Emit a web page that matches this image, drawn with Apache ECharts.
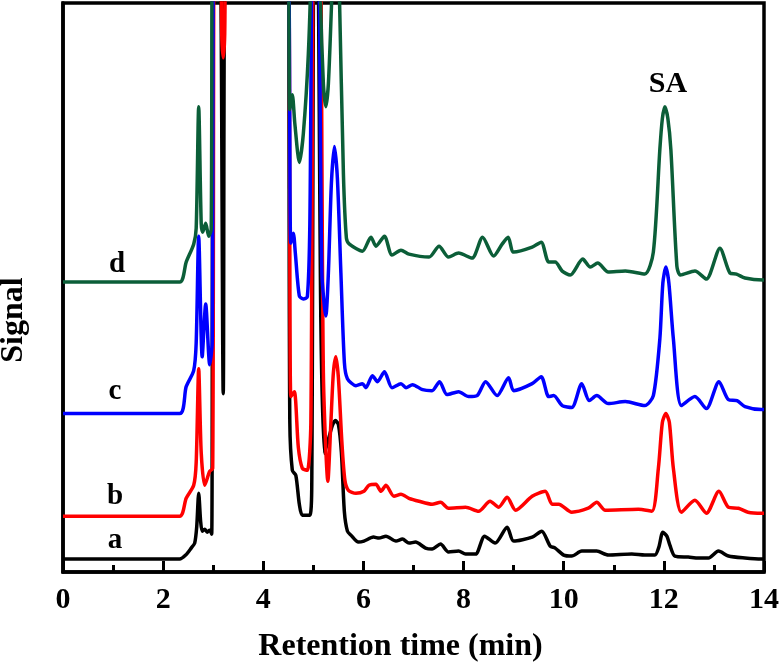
<!DOCTYPE html>
<html>
<head>
<meta charset="utf-8">
<script src="https://cdn.jsdelivr.net/npm/echarts@6/dist/echarts.min.js"></script>
<style>html,body{margin:0;padding:0;background:#fff}#c{width:782px;height:668px}</style>
</head>
<body>
<div id="c"></div>
<script>
// Retention time ticks
const xTicks = [0, 2, 4, 6, 8, 10, 12, 14];
const traceNames = ['a', 'b', 'c', 'd'];
const traceColors = ['#000000', '#ff0000', '#0000ff', '#0b5e38'];

// Trace a (black): [time, signal]
const traceA = [
  [0,13],[1,13],[2.33,13],[2.45,17],[2.56,24],[2.63,29],[2.67,45],[2.71,79],[2.75,50],[2.78,41],
  [2.83,43],[2.88,40],[2.93,42],[2.97,38],[3.01,700],[3.12,700],[3.2,179],[3.26,700],[4.47,700],
  [4.53,150],[4.58,102],[4.65,97],[4.72,68],[4.78,57],[4.93,57],[4.97,100],[5.02,700],[5.07,700],
  [5.15,250],[5.22,119],[5.3,133],[5.38,147],[5.44,152],[5.5,148],[5.56,120],[5.62,60],[5.68,41],
  [5.75,37],[5.9,30],[6.01,31],[6.2,35],[6.31,34],[6.45,36],[6.65,31],[6.78,33],[6.91,29],[7.04,30],
  [7.24,24],[7.37,23],[7.54,28],[7.7,20],[7.9,21],[8.04,18],[8.24,18],[8.42,36],[8.63,29],[8.87,45],
  [9.0,31],[9.37,35],[9.56,41],[9.73,26],[9.83,24],[10.0,17],[10.16,16],[10.36,21],[10.66,21],
  [10.89,17],[11.36,18],[11.62,17],[11.82,17],[11.9,25],[11.98,40],[12.06,36],[12.12,27],[12.22,16],
  [12.49,15],[12.69,14],[12.89,14],[13.09,21],[13.29,16],[13.62,14],[13.95,13],[14,13]
];

// Trace b (red)
const traceB = [
  [0,56],[1,56],[2.33,56],[2.46,74],[2.61,87],[2.66,110],[2.71,204],[2.76,120],[2.83,87],[2.93,101],
  [2.99,104],[3.03,700],[3.13,700],[3.17,540],[3.2,516],[3.23,540],[3.27,700],[4.47,700],[4.55,176],
  [4.62,181],[4.7,125],[4.78,104],[4.88,102],[4.95,150],[5.02,700],[5.12,700],[5.2,200],[5.29,91],
  [5.35,150],[5.4,200],[5.45,216],[5.5,195],[5.57,130],[5.63,92],[5.7,82],[5.85,79],[6.01,81],
  [6.11,87],[6.25,88],[6.35,81],[6.45,87],[6.61,76],[6.75,78],[6.91,74],[7.11,71],[7.37,68],[7.54,70],
  [7.7,64],[8.04,65],[8.3,61],[8.53,71],[8.7,65],[8.87,75],[9.04,62],[9.37,76],[9.63,81],[9.77,68],
  [9.9,68],[10.16,60],[10.49,64],[10.66,70],[10.83,62],[11.49,63],[11.76,61],[11.89,104],[11.97,150],
  [12.04,159],[12.11,150],[12.19,104],[12.35,60],[12.62,72],[12.85,59],[13.1,81],[13.29,65],[13.49,64],
  [13.68,60],[13.95,59],[14,59]
];

// Trace c (blue)
const traceC = [
  [0,159],[1,159],[2.33,159],[2.46,186],[2.61,202],[2.66,230],[2.71,337],[2.78,216],[2.85,269],
  [2.93,208],[2.98,230],[3.03,700],[4.45,700],[4.55,330],[4.6,340],[4.64,320],[4.72,277],[4.8,274],
  [4.88,276],[4.93,350],[5.0,700],[5.08,700],[5.17,300],[5.25,257],[5.3,300],[5.36,390],[5.42,427],
  [5.48,395],[5.55,300],[5.62,210],[5.68,194],[5.85,187],[5.98,189],[6.05,185],[6.18,197],[6.28,191],
  [6.42,201],[6.57,185],[6.75,189],[6.85,185],[6.98,188],[7.18,183],[7.37,182],[7.52,191],[7.67,178],
  [7.9,181],[8.1,176],[8.27,177],[8.44,191],[8.67,177],[8.9,195],[9.0,182],[9.37,189],[9.55,196],
  [9.7,176],[9.8,177],[9.97,167],[10.16,165],[10.36,189],[10.51,172],[10.66,177],[10.89,169],
  [11.23,171],[11.62,167],[11.79,177],[11.92,234],[11.98,290],[12.04,306],[12.1,290],[12.19,234],
  [12.35,167],[12.62,176],[12.85,164],[13.1,191],[13.29,173],[13.46,172],[13.62,166],[13.95,163],[14,163]
];

// Trace d (green)
const traceD = [
  [0,291],[1,291],[2.33,291],[2.46,311],[2.61,329],[2.66,345],[2.71,467],[2.76,350],[2.79,341],
  [2.85,350],[2.91,337],[2.96,344],[3.0,700],[4.46,700],[4.53,464],[4.58,479],[4.63,450],[4.72,411],
  [4.8,440],[4.9,520],[4.96,620],[5.05,900],[5.13,600],[5.2,490],[5.25,467],[5.3,490],[5.37,580],
  [5.45,700],[5.52,580],[5.6,400],[5.66,335],[5.72,329],[5.98,322],[6.15,336],[6.25,327],[6.42,337],
  [6.57,318],[6.75,323],[6.91,319],[7.31,316],[7.51,327],[7.7,316],[7.9,320],[8.17,315],[8.38,336],
  [8.6,317],[8.77,329],[8.89,336],[9.0,321],[9.37,326],[9.55,331],[9.7,311],[9.83,311],[9.97,302],
  [10.13,298],[10.38,314],[10.53,306],[10.68,310],[10.89,301],[11.23,302],[11.62,299],[11.79,321],
  [11.92,424],[11.97,455],[12.02,467],[12.08,455],[12.14,424],[12.26,307],[12.33,298],[12.62,302],
  [12.85,294],[13.12,325],[13.32,300],[13.45,299],[13.62,295],[13.98,293],[14,293]
];

const traces = [traceA, traceB, traceC, traceD];
const FONT = '"Liberation Serif", "Times New Roman", serif';

const chart = echarts.init(document.getElementById('c'), null, {renderer: 'canvas'});
chart.setOption({
  animation: false,
  backgroundColor: '#fff',
  grid: {left: 63, right: 17, top: 3, bottom: 94, show: true, borderColor: '#000', borderWidth: 3.5, backgroundColor: 'transparent'},
  xAxis: {
    type: 'value', min: 0, max: 14, interval: 2,
    name: 'Retention time (min)', nameLocation: 'middle', nameGap: 59,
    nameTextStyle: {fontFamily: FONT, fontWeight: 'bold', fontSize: 32, color: '#000', padding: [0, 26, 0, 0]},
    axisLine: {show: true, lineStyle: {color: '#000', width: 3.5}},
    axisTick: {show: true, inside: true, length: 11, lineStyle: {color: '#000', width: 3}},
    minorTick: {show: true, splitNumber: 2, length: 7, lineStyle: {color: '#000', width: 3}},
    splitLine: {show: false},
    axisLabel: {fontFamily: FONT, fontWeight: 'bold', fontSize: 30, color: '#000', margin: 13,
      formatter: v => xTicks.includes(v) ? String(v) : ''}
  },
  yAxis: {
    type: 'value', min: 0, max: 571,
    axisLine: {show: true, lineStyle: {color: '#000', width: 3.5}},
    axisTick: {show: false}, axisLabel: {show: false}, splitLine: {show: false}
  },
  graphic: [
    {type: 'text', x: 14, y: 320, rotation: Math.PI / 2,
      style: {text: 'Signal', fontFamily: FONT, fontWeight: 'bold', fontSize: 32, fill: '#000', align: 'center', verticalAlign: 'middle'}},
    {type: 'text', x: 115, y: 541, style: {text: 'a', fontFamily: FONT, fontWeight: 'bold', fontSize: 29, fill: '#000', align: 'center', verticalAlign: 'middle'}},
    {type: 'text', x: 115, y: 497, style: {text: 'b', fontFamily: FONT, fontWeight: 'bold', fontSize: 29, fill: '#000', align: 'center', verticalAlign: 'middle'}},
    {type: 'text', x: 115, y: 392, style: {text: 'c', fontFamily: FONT, fontWeight: 'bold', fontSize: 29, fill: '#000', align: 'center', verticalAlign: 'middle'}},
    {type: 'text', x: 117, y: 265, style: {text: 'd', fontFamily: FONT, fontWeight: 'bold', fontSize: 29, fill: '#000', align: 'center', verticalAlign: 'middle'}},
    {type: 'text', x: 668, y: 84, style: {text: 'SA', fontFamily: FONT, fontWeight: 'bold', fontSize: 30, fill: '#000', align: 'center', verticalAlign: 'middle'}}
  ],
  series: traces.map((d, i) => ({
    type: 'line', name: traceNames[i], data: d, showSymbol: false, symbol: 'none',
    smooth: 0.25, clip: true,
    lineStyle: {color: traceColors[i], width: 3.5}
  }))
});
</script>
</body>
</html>
